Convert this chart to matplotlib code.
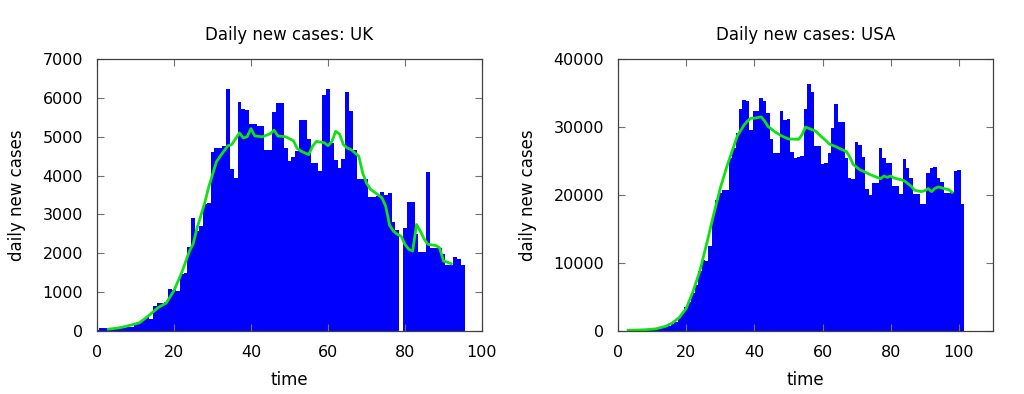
import numpy as np
import matplotlib
matplotlib.use("Agg")
import matplotlib.pyplot as plt

# daily new cases, day 0 .. 95 (UK) and day 0 .. 101 (USA)
uk_cases = [25, 77, 77, 43, 43, 60, 70, 70, 90, 110,
            200, 230, 290, 360, 300, 640, 710, 720, 750, 1070,
            1050, 1020, 1470, 1480, 2170, 2910, 2570, 2700, 3280, 3300,
            4600, 4700, 4700, 4750, 6230, 4170, 3940, 5900, 5720, 5700,
            5340, 5320, 5290, 5280, 4650, 4660, 5640, 5870, 5860, 4700,
            4370, 4480, 4630, 5440, 5420, 4940, 4330, 4330, 4110, 6070,
            6240, 4840, 4390, 4200, 4440, 6140, 5660, 4670, 3920, 3920,
            3920, 3450, 3450, 3470, 3580, 3500, 3560, 2800, 2600, 0,
            2660, 3320, 3320, 2500, 2040, 2040, 4100, 2140, 2140, 2140,
            1970, 1690, 1690, 1910, 1840, 1690]

usa_cases = [15, 10, 20, 20, 30, 40, 60, 70, 90, 120,
             150, 250, 350, 450, 600, 790, 1080, 1300, 1900, 2650,
             3500, 4300, 5600, 6800, 8790, 10500, 10300, 12500, 17130, 19240,
             20230, 20720, 20700, 25380, 26950, 29060, 32700, 33920, 33900, 29550,
             32350, 32350, 34310, 33820, 32100, 28180, 26220, 26220, 32300, 31000,
             31200, 26300, 25500, 25600, 25800, 32600, 36380, 35150, 27200, 27200,
             24500, 24740, 26120, 29900, 33330, 30730, 30730, 25480, 22530, 22390,
             27840, 27340, 25630, 20910, 20000, 21700, 21700, 26950, 25480, 24740,
             24740, 21310, 21310, 20080, 25230, 24010, 22530, 20080, 20080, 18750,
             18750, 23270, 24010, 24150, 22500, 21900, 20320, 20320, 20500, 23520,
             23660, 18750]

# smoothed curve (green)
uk_avg_day = [3, 5, 6, 8, 11, 13, 16, 18, 20, 22, 24, 25, 26, 28, 29, 31, 32, 34, 35,
              37, 38, 39, 40, 41, 43, 45, 46, 47, 49, 51, 52, 53, 55, 56, 57, 59,
              60, 61, 62, 63, 64, 65, 66, 68, 69, 70, 71, 72, 74, 75, 76, 77, 78,
              79, 80, 81, 82, 83, 84, 85, 86, 88, 89, 90, 91, 92]
uk_avg = [45, 70, 85, 130, 210, 360, 610, 720, 1040, 1500, 2050, 2250, 2650, 3300, 3700,
          4350, 4500, 4770, 4800, 5100, 4970, 5000, 5210, 5020, 5000, 5080, 5170, 5020,
          5000, 4900, 4700, 4630, 4540, 4760, 4880, 4850, 4770, 4880, 5140, 5070, 4800,
          4710, 4670, 4500, 4070, 3810, 3650, 3580, 3430, 3210, 2720, 2570, 2490, 2440,
          2230, 2100, 2060, 2740, 2570, 2360, 2230, 2200, 2140, 1800, 1770, 1730]

usa_avg_day = [3, 5, 8, 11, 14, 16, 18, 20, 22, 24, 26, 28, 30, 32, 34, 35, 37, 38, 39,
               40, 42, 43, 44, 46, 48, 50, 53, 54, 55, 56, 58, 59, 61, 62, 64, 65, 67,
               68, 69, 71, 72, 74, 75, 77, 78, 79, 80, 81, 83, 84, 86, 87, 89, 90, 91,
               92, 93, 94, 96, 97, 98]
usa_avg = [100, 120, 180, 300, 690, 1180, 2000, 3300, 5800, 8800, 12800, 17000, 21000,
           24300, 27200, 28700, 30300, 30900, 31300, 31300, 31500, 30900, 30100, 29300,
           28700, 28250, 28200, 28900, 30000, 29800, 29400, 28900, 28000, 27500, 27100,
           26850, 26400, 25600, 24500, 23700, 23500, 23000, 22800, 22400, 22800, 22600,
           22800, 22500, 22250, 22100, 21300, 20700, 20500, 20650, 20950, 20500, 21000,
           21200, 20900, 20800, 20400]

plt.rcParams['font.family'] = ['DejaVu Sans']

fig = plt.figure(figsize=(10.24, 3.94), dpi=100)
ax1 = fig.add_axes([0.0947, 0.160, 0.376, 0.690])
ax2 = fig.add_axes([0.6035, 0.160, 0.3662, 0.690])

panels = [
    (ax1, uk_cases, uk_avg_day, uk_avg, 'UK', 100, 7000, 1000),
    (ax2, usa_cases, usa_avg_day, usa_avg, 'USA', 110, 40000, 10000),
]

for ax, cases, avg_t, avg, name, xmax, ymax, ystep in panels:
    days = np.arange(len(cases))
    ax.bar(days, cases, width=1.0, color='#0000ff', linewidth=0)
    ax.plot(avg_t, avg, color='#11e011', linewidth=2.0)
    ax.set_xlim(0, xmax)
    ax.set_ylim(0, ymax)
    ax.set_xticks(np.arange(0, 101, 20))
    ax.set_yticks(np.arange(0, ymax + 1, ystep))
    ax.tick_params(direction='in', length=5, width=0.8, color='#707070',
                   top=True, right=True, pad=10, labelsize=11.5)
    for s in ax.spines.values():
        s.set_color('#404040')
        s.set_linewidth(0.9)
    ax.set_title('Daily new cases: ' + name, fontsize=12, pad=14)
    ax.set_xlabel('time', fontsize=12, labelpad=8)
    ax.set_ylabel('daily new cases', fontsize=12, labelpad=12)

fig.savefig('out.png', dpi=100)
